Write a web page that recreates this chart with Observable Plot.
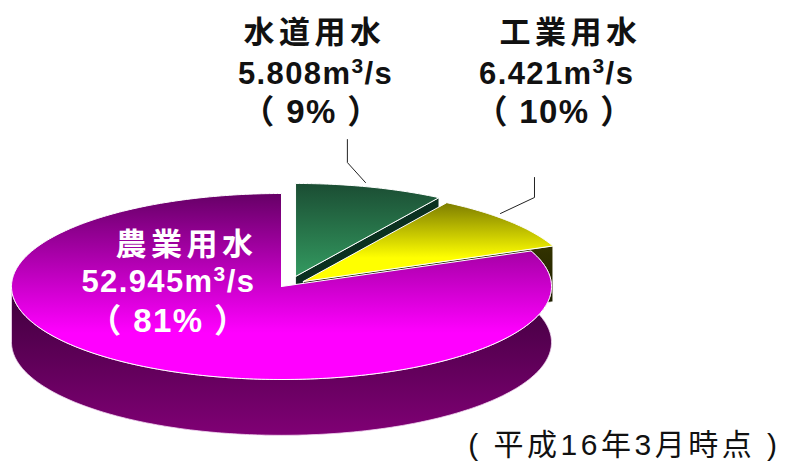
<!DOCTYPE html>
<html><head><meta charset="utf-8">
<script src="https://cdn.jsdelivr.net/npm/d3@7"></script>
<script src="https://cdn.jsdelivr.net/npm/@observablehq/plot@0.6"></script>
<style>
html,body{margin:0;padding:0;background:#fff}
svg{display:block}
.kanji text{letter-spacing:4.5px}
.nums text{letter-spacing:1.4px}
.note text{letter-spacing:3.5px}
</style></head><body>
<script>
// Data
const categories = ["水道用水", "工業用水", "農業用水"];
const flows = [5.808, 6.421, 52.945];
const flowLabels = ["5.808m³/s", "6.421m³/s", "52.945m³/s"];
const percentLabels = ["（ 9% ）", "（ 10% ）", "（ 81% ）"];
const note = "( 平成16年3月時点 )";

// Layout, in pie units (radius = 1)
const explodeX = [0.052, 0.081, 0];
const explodeY = [0.108, 0.054, 0];
const depth = 0.6;
const catX = [0.122, 1.07, -0.352], catY = [2.72, 2.72, 0.441];
const flowX = [0.126, 1.019, -0.419], flowY = [2.28, 2.28, 0.043];
const pctX = [0.111, 1.011, -0.419], pctY = [1.87, 1.87, -0.376];
const labelColor = ["#111", "#111", "#fff"];
const leaders = [
  {x: [0.244, 0.244, 0.311], y: [1.58, 1.333, 1.118]},
  {x: [0.937, 0.937, 0.811], y: [1.172, 0.957, 0.785]}
];

// Slice angles follow the flows
const total = d3.sum(flows);
let run = 0;
const slices = flows.map((v, i) => {
  const a0 = run / total * 2 * Math.PI; run += v;
  return {i, a0, a1: run / total * 2 * Math.PI, cx: explodeX[i], cy: explodeY[i]};
});
const arc = (s, a0, a1, d = 0) => {
  const n = Math.max(2, Math.ceil(Math.abs(a1 - a0) / 0.015));
  return d3.range(n + 1).map(k => {
    const a = a0 + (a1 - a0) * k / n;
    return [s.cx + Math.sin(a), s.cy + Math.cos(a) - d];
  });
};
const topFace = s => [[s.cx, s.cy], ...arc(s, s.a0, s.a1), [s.cx, s.cy]];
const cutWall = (s, a) => {
  const e = arc(s, a, a)[0];
  return [[s.cx, s.cy], e, [e[0], e[1] - depth], [s.cx, s.cy - depth], [s.cx, s.cy]];
};
const poly = pts => pts.map(([x, y]) => ({x, y}));
const area = (pts, fill, stroke = "#fff", strokeWidth = 1) =>
  Plot.line(poly(pts), {x: "x", y: "y", fill, stroke, strokeWidth, curve: "linear"});

const [g, y, m] = slices;
const textMark = (xs, ys, strs, size, className) =>
  Plot.text(strs.map((t, i) => ({t, x: xs[i], y: ys[i], c: labelColor[i]})), {
    x: "x", y: "y", text: "t", fill: d => d.c, fontSize: size, fontWeight: 700,
    lineAnchor: "middle", textAnchor: "middle", className
  });

const plot = Plot.plot({
  width: 789, height: 462, margin: 0,
  style: {fontFamily: "'Liberation Sans','Noto Sans CJK JP',sans-serif", background: "#fff"},
  x: {domain: [-1, 1], range: [11, 551], axis: null},
  y: {domain: [1, -1], range: [193, 379], axis: null},
  marks: [
    // water supply
    area(cutWall(g, g.a1), "#0b3020", "#fff", 0.8),
    area(topFace(g), "url(#gGreen)"),
    // industry
    area(cutWall(y, y.a1), "url(#gYellowWall)", "#fff", 0.8),
    area(topFace(y), "url(#gYellow)"),
    // agriculture
    area([...arc(m, m.a0, Math.PI * 1.5), ...arc(m, Math.PI * 1.5, m.a0, depth)], "url(#gPurple)", "#f3d9f3", 0.8),
    area(topFace(m), "url(#gMagenta)"),
    // leaders
    ...leaders.map(l => Plot.line(l.x.map((x, i) => ({x, y: l.y[i]})), {x: "x", y: "y", stroke: "#222", strokeWidth: 1})),
    textMark(catX, catY, categories, 31, "kanji"),
    textMark(flowX, flowY, flowLabels, 31, "nums"),
    textMark(pctX, pctY, percentLabels, 33, "nums"),
    Plot.text([note], {x: [1.27], y: [-1.71], text: d => d, fontSize: 30, fill: "#111", lineAnchor: "middle", textAnchor: "middle", className: "note"})
  ]
});

// Gradients
const defs = d3.select(plot).insert("defs", ":first-child");
[["gGreen", [[0, "#1b4d33"], [1, "#339a60"]]],
 ["gYellow", [[0, "#7d7d00"], [0.7, "#ffff00"], [1, "#ffff00"]]],
 ["gYellowWall", [[0, "#333300"], [1, "#111100"]]],
 ["gMagenta", [[0, "#660066"], [0.75, "#ff00ff"], [1, "#ff00ff"]]],
 ["gPurple", [[0, "#2e002e"], [1, "#800075"]]]].forEach(([id, stops]) => {
  const lg = defs.append("linearGradient").attr("id", id).attr("x1", 0).attr("y1", 0).attr("x2", 0).attr("y2", 1);
  stops.forEach(([o, c]) => lg.append("stop").attr("offset", o).attr("stop-color", c));
});

// Raised exponent as a real tspan
d3.select(plot).selectAll("text").filter(function () { return this.textContent.includes("³"); }).each(function () {
  const host = this.querySelector("tspan") || this;
  const [a, b] = host.textContent.split("³");
  host.textContent = "";
  const sel = d3.select(host);
  sel.append("tspan").text(a);
  sel.append("tspan").attr("dy", -11).attr("font-size", 21).text("3");
  sel.append("tspan").attr("dy", 11).text(b);
});
document.body.append(plot);
</script>
</body></html>
